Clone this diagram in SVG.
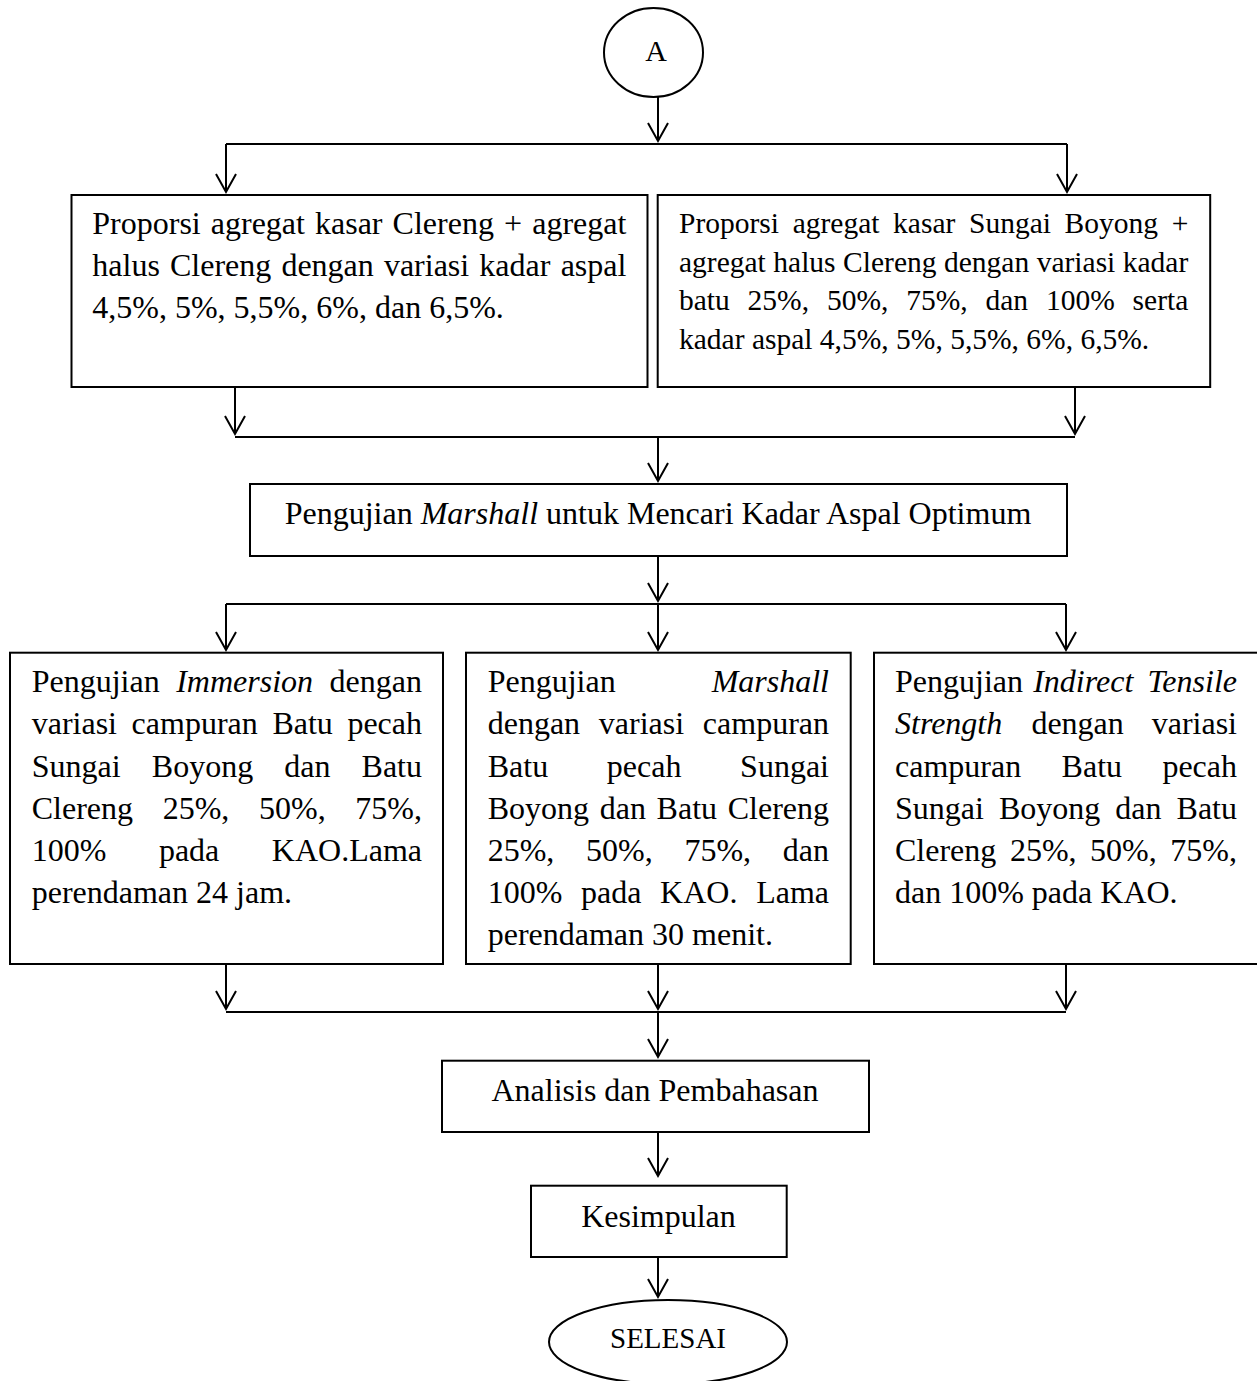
<svg xmlns="http://www.w3.org/2000/svg" width="1257" height="1381" viewBox="0 0 1257 1381">
<style>
text{font-family:"Liberation Serif","Times New Roman",serif;font-size:32px;fill:#000}
.s{font-size:29.5px}
.i{font-style:italic}
.e{text-anchor:end}
.c{text-anchor:middle}
.box{fill:#fff;stroke:#000;stroke-width:2}
.ln{fill:none;stroke:#000;stroke-width:2}
</style>
<defs>
<marker id="arr" markerUnits="userSpaceOnUse" markerWidth="24" markerHeight="26" viewBox="-21 -13 24 26" refX="0" refY="0" orient="auto">
<path d="M-18,-10 L0,0 L-18,10" fill="none" stroke="#000" stroke-width="2"/>
</marker>
</defs>
<g id="connectors">
<line class="ln" x1="658" y1="97" x2="658" y2="141" marker-end="url(#arr)"/>
<line class="ln" x1="226" y1="144" x2="1067" y2="144"/>
<line class="ln" x1="226" y1="144" x2="226" y2="192" marker-end="url(#arr)"/>
<line class="ln" x1="1067" y1="144" x2="1067" y2="192" marker-end="url(#arr)"/>
<line class="ln" x1="235" y1="387" x2="235" y2="434" marker-end="url(#arr)"/>
<line class="ln" x1="1075" y1="387" x2="1075" y2="434" marker-end="url(#arr)"/>
<line class="ln" x1="235" y1="437" x2="1075" y2="437"/>
<line class="ln" x1="658" y1="437" x2="658" y2="481" marker-end="url(#arr)"/>
<line class="ln" x1="658" y1="556" x2="658" y2="601" marker-end="url(#arr)"/>
<line class="ln" x1="226" y1="604" x2="1066" y2="604"/>
<line class="ln" x1="226" y1="604" x2="226" y2="650" marker-end="url(#arr)"/>
<line class="ln" x1="658" y1="604" x2="658" y2="650" marker-end="url(#arr)"/>
<line class="ln" x1="1066" y1="604" x2="1066" y2="650" marker-end="url(#arr)"/>
<line class="ln" x1="226" y1="964" x2="226" y2="1009" marker-end="url(#arr)"/>
<line class="ln" x1="658" y1="964" x2="658" y2="1009" marker-end="url(#arr)"/>
<line class="ln" x1="1066" y1="964" x2="1066" y2="1009" marker-end="url(#arr)"/>
<line class="ln" x1="226" y1="1012" x2="1066" y2="1012"/>
<line class="ln" x1="658" y1="1012" x2="658" y2="1057" marker-end="url(#arr)"/>
<line class="ln" x1="658" y1="1132" x2="658" y2="1176" marker-end="url(#arr)"/>
<line class="ln" x1="658" y1="1257" x2="658" y2="1297" marker-end="url(#arr)"/>
</g>
<g id="start">
<ellipse class="box" cx="653.5" cy="52.5" rx="49.5" ry="44.5"/>
<text class="c" x="656" y="61" style="font-size:30px">A</text>
</g>
<g id="box-clereng">
<rect class="box" x="71.5" y="195" width="576" height="192"/>
<text y="234"><tspan x="92.3">Proporsi</tspan><tspan x="210.8">agregat</tspan><tspan x="315">kasar</tspan><tspan x="392.6">Clereng</tspan><tspan x="503.9">+</tspan><tspan class="e" x="626.4">agregat</tspan></text>
<text y="276"><tspan x="92.3">halus</tspan><tspan x="170">Clereng</tspan><tspan x="281.4">dengan</tspan><tspan x="383.9">variasi</tspan><tspan x="479.3">kadar</tspan><tspan class="e" x="626.4">aspal</tspan></text>
<text x="92.3" y="318">4,5%, 5%, 5,5%, 6%, dan 6,5%.</text>
</g>
<g id="box-boyong">
<rect class="box" x="657.7" y="195" width="552.5" height="192"/>
<text class="s" y="233"><tspan x="679">Proporsi</tspan><tspan x="792.7">agregat</tspan><tspan x="893.1">kasar</tspan><tspan x="969">Sungai</tspan><tspan x="1064.6">Boyong</tspan><tspan class="e" x="1188.3">+</tspan></text>
<text class="s" y="271.5"><tspan x="679">agregat</tspan><tspan x="773.3">halus</tspan><tspan x="843.1">Clereng</tspan><tspan x="944">dengan</tspan><tspan x="1036.7">variasi</tspan><tspan class="e" x="1188.3">kadar</tspan></text>
<text class="s" y="310"><tspan x="679">batu</tspan><tspan x="747.6">25%,</tspan><tspan x="826.9">50%,</tspan><tspan x="906.2">75%,</tspan><tspan x="985.5">dan</tspan><tspan x="1046">100%</tspan><tspan class="e" x="1188.3">serta</tspan></text>
<text class="s" x="679" y="348.5">kadar aspal 4,5%, 5%, 5,5%, 6%, 6,5%.</text>
</g>
<g id="box-kao">
<rect class="box" x="250" y="484" width="817" height="72"/>
<text class="c" x="658" y="524">Pengujian <tspan class="i">Marshall</tspan> untuk Mencari Kadar Aspal Optimum</text>
</g>
<g id="box-immersion">
<rect class="box" x="10" y="652.7" width="433" height="311.3"/>
<text y="692"><tspan x="31.7">Pengujian</tspan><tspan class="i" x="176.2">Immersion</tspan><tspan class="e" x="422">dengan</tspan></text>
<text y="734"><tspan x="31.7">variasi</tspan><tspan x="131.6">campuran</tspan><tspan x="272.4">Batu</tspan><tspan class="e" x="422">pecah</tspan></text>
<text y="776.5"><tspan x="31.7">Sungai</tspan><tspan x="151.8">Boyong</tspan><tspan x="284.2">dan</tspan><tspan class="e" x="422">Batu</tspan></text>
<text y="818.5"><tspan x="31.7">Clereng</tspan><tspan x="162.7">25%,</tspan><tspan x="259">50%,</tspan><tspan class="e" x="422">75%,</tspan></text>
<text y="860.5"><tspan x="31.7">100%</tspan><tspan x="158.9">pada</tspan><tspan class="e" x="422">KAO.Lama</tspan></text>
<text x="31.7" y="903">perendaman 24 jam.</text>
</g>
<g id="box-marshall">
<rect class="box" x="466" y="652.7" width="384.7" height="311.3"/>
<text y="692"><tspan x="487.7">Pengujian</tspan><tspan class="i e" x="829">Marshall</tspan></text>
<text y="734"><tspan x="487.7">dengan</tspan><tspan x="598.8">variasi</tspan><tspan class="e" x="829">campuran</tspan></text>
<text y="776.5"><tspan x="487.7">Batu</tspan><tspan x="606.8">pecah</tspan><tspan class="e" x="829">Sungai</tspan></text>
<text y="818.5"><tspan x="487.7">Boyong</tspan><tspan x="599.7">dan</tspan><tspan x="656.6">Batu</tspan><tspan class="e" x="829">Clereng</tspan></text>
<text y="860.5"><tspan x="487.7">25%,</tspan><tspan x="586.1">50%,</tspan><tspan x="684.4">75%,</tspan><tspan class="e" x="829">dan</tspan></text>
<text y="903"><tspan x="487.7">100%</tspan><tspan x="581">pada</tspan><tspan x="660.1">KAO.</tspan><tspan class="e" x="829">Lama</tspan></text>
<text x="487.7" y="945">perendaman 30 menit.</text>
</g>
<g id="box-its">
<rect class="box" x="874" y="652.7" width="386" height="311.3"/>
<text y="692"><tspan x="895">Pengujian</tspan><tspan class="i" x="1033.2">Indirect</tspan><tspan class="i e" x="1237">Tensile</tspan></text>
<text y="734"><tspan class="i" x="895">Strength</tspan><tspan x="1031.4">dengan</tspan><tspan class="e" x="1237">variasi</tspan></text>
<text y="776.5"><tspan x="895">campuran</tspan><tspan x="1061.6">Batu</tspan><tspan class="e" x="1237">pecah</tspan></text>
<text y="818.5"><tspan x="895">Sungai</tspan><tspan x="999">Boyong</tspan><tspan x="1115.3">dan</tspan><tspan class="e" x="1237">Batu</tspan></text>
<text y="860.5"><tspan x="895">Clereng</tspan><tspan x="1009.9">25%,</tspan><tspan x="1090.1">50%,</tspan><tspan class="e" x="1237">75%,</tspan></text>
<text x="895" y="903">dan 100% pada KAO.</text>
</g>
<g id="box-analisis">
<rect class="box" x="442" y="1060.7" width="427" height="71.3"/>
<text class="c" x="655" y="1101">Analisis dan Pembahasan</text>
</g>
<g id="box-kesimpulan">
<rect class="box" x="531" y="1185.7" width="255.7" height="71.3"/>
<text class="c" x="658.5" y="1227">Kesimpulan</text>
</g>
<g id="end">
<ellipse class="box" cx="668" cy="1342" rx="119" ry="42"/>
<text class="c" x="668" y="1348" style="font-size:29px">SELESAI</text>
</g>
</svg>
